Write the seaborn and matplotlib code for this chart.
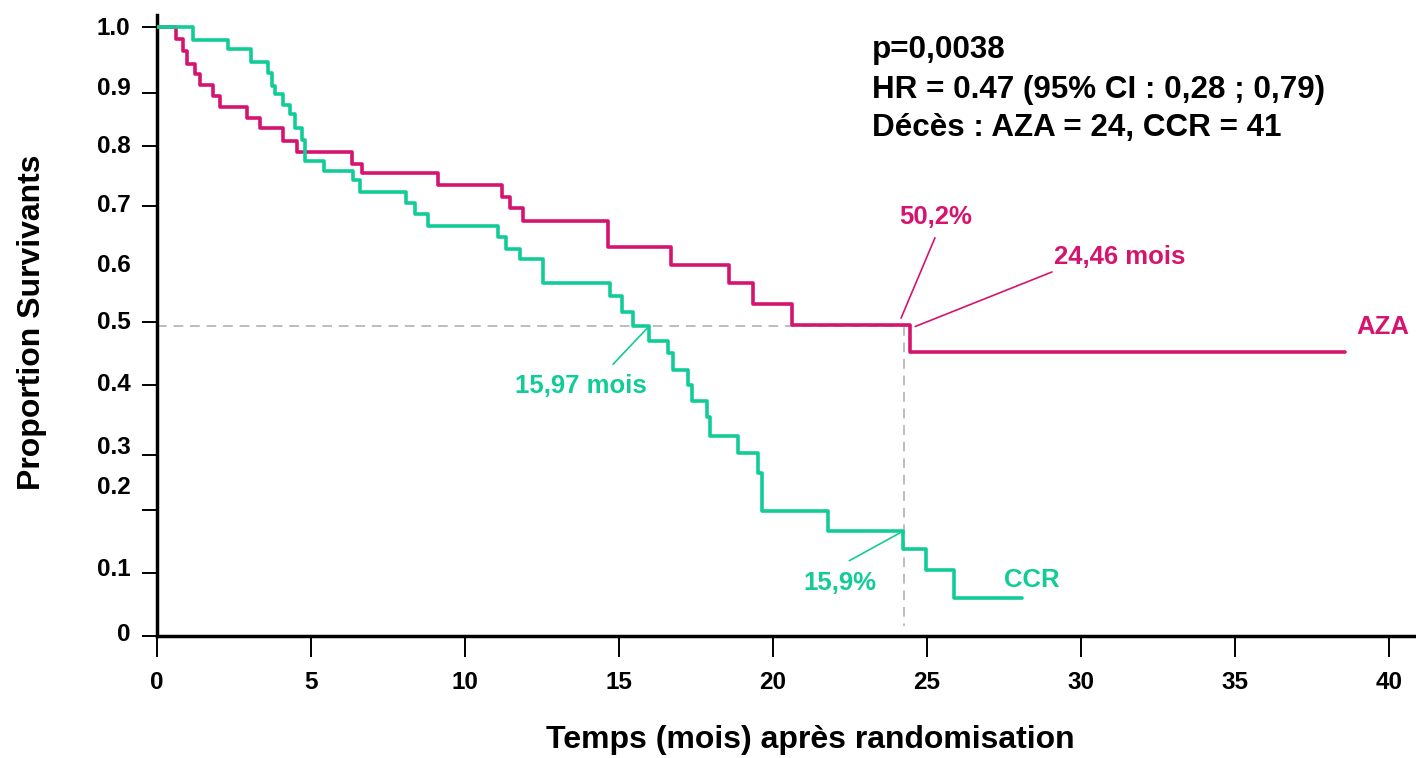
import matplotlib
matplotlib.use("Agg")
import matplotlib.pyplot as plt
import seaborn as sns
import pandas as pd

# Kaplan-Meier step points (months, proportion surviving)
aza_time = [0.0, 0.61, 0.85, 0.98, 1.23, 1.40, 1.83, 2.05, 2.91, 3.34, 4.10, 4.56,
            6.34, 6.65, 9.11, 11.21, 11.46, 11.89, 14.65, 16.69, 18.57, 19.34,
            20.63, 24.46, 38.57]
aza_surv = [1.0, 0.980, 0.960, 0.938, 0.922, 0.903, 0.885, 0.866, 0.848, 0.831, 0.810, 0.792,
            0.772, 0.756, 0.736, 0.717, 0.697, 0.676, 0.632, 0.603, 0.572, 0.538,
            0.502, 0.457, 0.457]

ccr_time = [0.0, 1.16, 2.30, 3.04, 3.61, 3.72, 3.83, 4.10, 4.32, 4.48, 4.70, 4.81,
            5.43, 6.37, 6.60, 8.08, 8.38, 8.79, 11.06, 11.33, 11.79, 12.54, 14.71,
            15.09, 15.46, 15.97, 16.60, 16.74, 17.23, 17.36, 17.85, 17.95, 18.87,
            19.52, 19.66, 21.80, 24.22, 24.96, 25.88, 28.10]
ccr_surv = [1.0, 0.979, 0.963, 0.942, 0.923, 0.902, 0.888, 0.870, 0.854, 0.831, 0.811, 0.777,
            0.760, 0.745, 0.725, 0.706, 0.688, 0.667, 0.650, 0.629, 0.612, 0.572, 0.551,
            0.525, 0.500, 0.475, 0.455, 0.427, 0.402, 0.376, 0.349, 0.317, 0.289,
            0.255, 0.192, 0.159, 0.128, 0.093, 0.047, 0.047]

arms = ["AZA", "CCR"]
colors = {"AZA": "#D5146F", "CCR": "#12CC98"}

x_ticks = [0, 5, 10, 15, 20, 25, 30, 35, 40]
y_tick_labels = ["0", "0.1", "0.2", "0.3", "0.4", "0.5", "0.6", "0.7", "0.8", "0.9", "1.0"]
# hand-set axis: label anchors and tick-mark positions
y_label_pos = [-0.010, 0.0985, 0.2354, 0.3022, 0.4073, 0.5109, 0.6052, 0.7062, 0.8047, 0.9022, 1.0017]
y_mark_pos = [-0.0167, 0.0885, 0.1937, 0.2855, 0.4023, 0.5075, 0.6052, 0.7012, 0.8013, 0.8898, 1.0]

median_aza = 24.46
median_ccr = 15.97
surv_aza_at = 0.502
surv_ccr_at = 0.159
ref_time = 24.25

stats_lines = ["p=0,0038",
               "HR = 0.47 (95% CI : 0,28 ; 0,79)",
               "Décès : AZA = 24, CCR = 41"]

df = pd.concat([
    pd.DataFrame({"time": aza_time, "surv": aza_surv, "arm": "AZA"}),
    pd.DataFrame({"time": ccr_time, "surv": ccr_surv, "arm": "CCR"}),
], ignore_index=True)

sns.set_theme(style="white")
plt.rcParams["font.family"] = ["Liberation Sans", "DejaVu Sans"]
plt.rcParams["font.weight"] = "bold"
for key in ["text.color", "axes.labelcolor", "xtick.color", "ytick.color"]:
    plt.rcParams[key] = "black"

fig = plt.figure(figsize=(14.16, 7.58), dpi=100)
ax = fig.add_axes([157 / 1416, 1 - 636 / 758, 1259 / 1416, 621 / 758])

# reference guides at the median
ax.plot([0, median_aza], [0.5, 0.5], color="#BDBDBD", lw=1.4, ls=(0, (5, 3.5)), zorder=1)
ax.plot([ref_time, ref_time], [0.5, 0.0], color="#BDBDBD", lw=1.4, ls=(0, (5, 3.5)), zorder=1)

sns.lineplot(data=df, x="time", y="surv", hue="arm", palette=colors, hue_order=arms,
             drawstyle="steps-post", estimator=None, sort=False, legend=False,
             lw=2.6, ax=ax, zorder=3)

ax.set_xlim(0, 40.88)
ax.set_ylim(-0.0167, 1.02)

for side in ["top", "right"]:
    ax.spines[side].set_visible(False)
for side in ["left", "bottom"]:
    ax.spines[side].set_color("black")
    ax.spines[side].set_linewidth(2.5)

ax.set_xticks(x_ticks)
ax.set_xticklabels([str(t) for t in x_ticks])
ax.tick_params(axis="x", which="major", direction="out", length=15, width=1.4,
               pad=10, labelsize=17.5, colors="black", bottom=True)

ax.set_yticks(y_label_pos)
ax.set_yticklabels(y_tick_labels)
ax.set_yticks(y_mark_pos, minor=True)
ax.tick_params(axis="y", which="major", length=0, pad=19, labelsize=17.5,
               labelcolor="black", left=True)
ax.tick_params(axis="y", which="minor", direction="out", length=11, width=1.4,
               color="black", left=True)
for lab in ax.get_xticklabels() + ax.get_yticklabels():
    lab.set_fontweight("bold")
    lab.set_color("black")

ax.set_xlabel("Temps (mois) après randomisation", fontsize=23, fontweight="bold", color="black")
ax.set_ylabel("Proportion Survivants", fontsize=23, fontweight="bold", color="black")
ax.xaxis.set_label_coords((810 - 157) / 1259, (636 - 740) / 621)
ax.xaxis.label.set_va("center")
ax.yaxis.set_label_coords((32 - 157) / 1259, (636 - 322) / 621)
ax.yaxis.label.set_va("center")
ax.grid(False)

# annotations
ann = dict(fontsize=18.5, fontweight="bold", ha="center", va="center")
ax.plot([25.26, 24.16], [0.648, 0.514], color=colors["AZA"], lw=1.2)
ax.text(25.29, 0.683, "50,2%", color=colors["AZA"], **ann)
ax.plot([29.06, 24.62], [0.591, 0.500], color=colors["AZA"], lw=1.2)
ax.text(31.27, 0.616, "24,46 mois", color=colors["AZA"], **ann)
ax.plot([14.81, median_ccr], [0.437, 0.5], color=colors["CCR"], lw=1.2)
ax.text(13.77, 0.401, "15,97 mois", color=colors["CCR"], **ann)
ax.plot([22.48, ref_time], [0.109, surv_ccr_at], color=colors["CCR"], lw=1.2)
ax.text(22.18, 0.072, "15,9%", color=colors["CCR"], **ann)
ax.text(39.81, 0.499, "AZA", color=colors["AZA"], **ann)
ax.text(28.41, 0.077, "CCR", color=colors["CCR"], **ann)

for line, ypx in zip(stats_lines, [50, 90, 128]):
    fig.text(872 / 1416, 1 - ypx / 758, line, fontsize=22.6, fontweight="bold",
             ha="left", va="center", color="black")

fig.savefig("out.png", dpi=100)
